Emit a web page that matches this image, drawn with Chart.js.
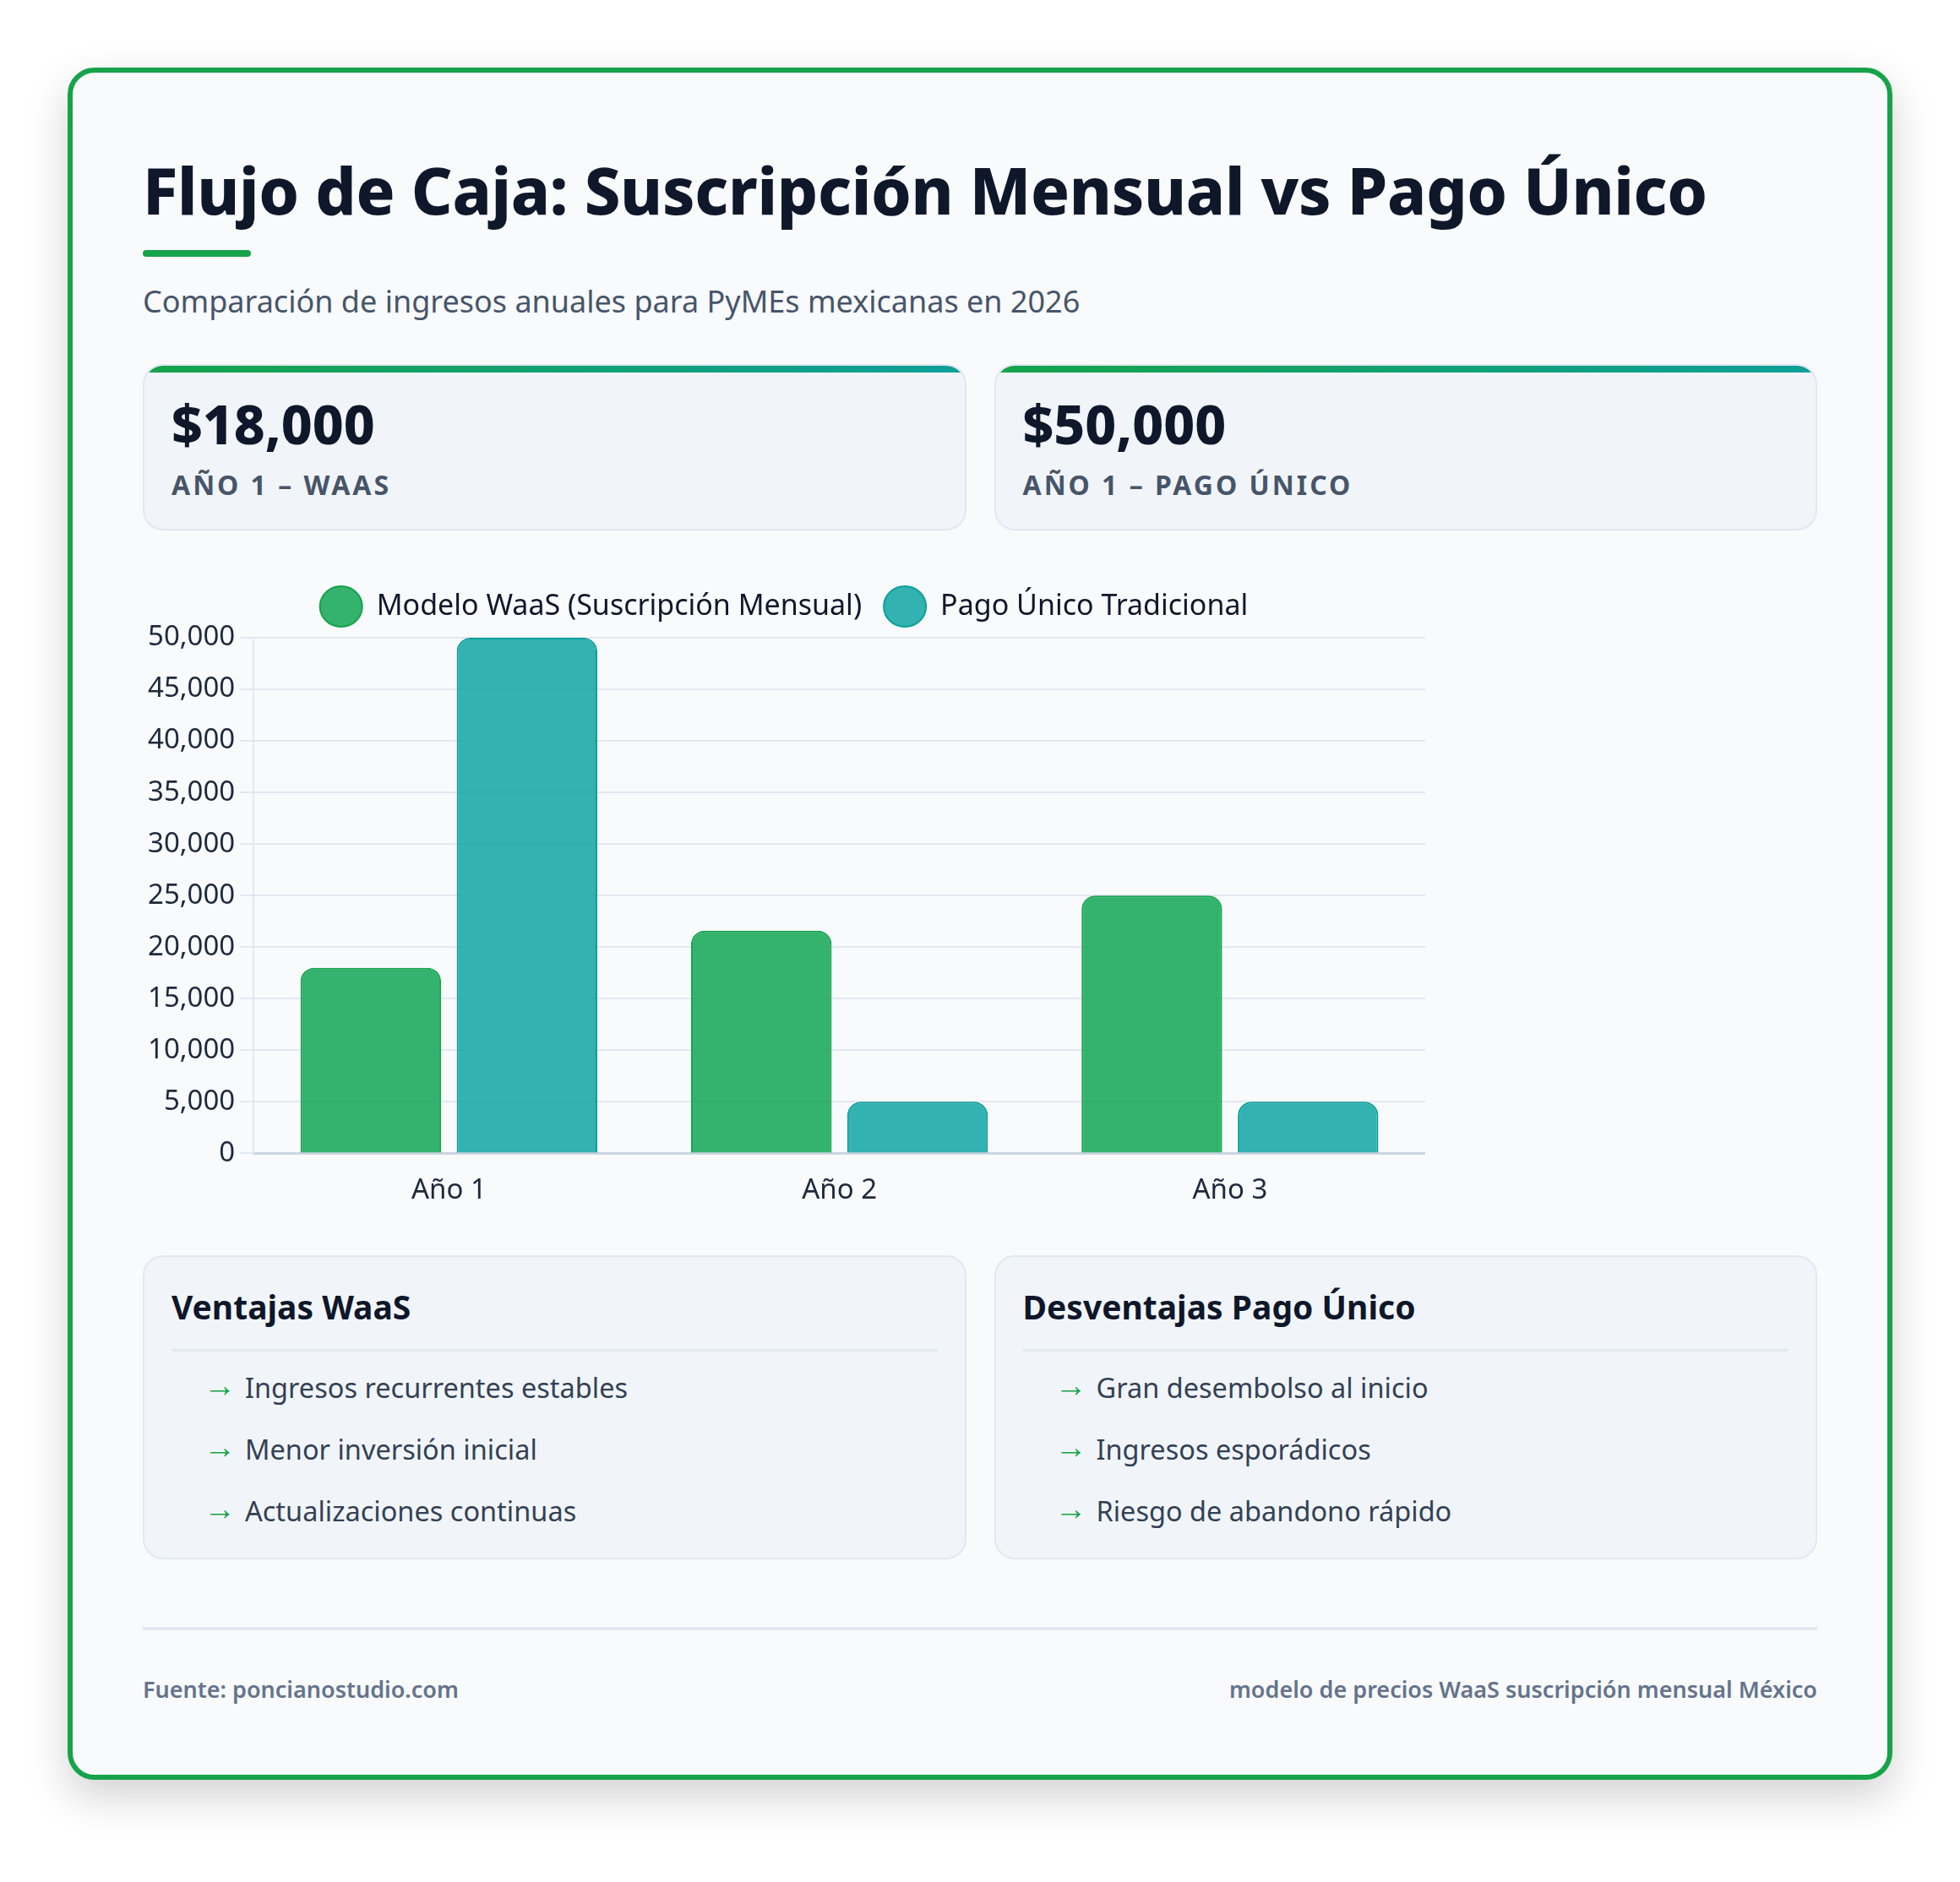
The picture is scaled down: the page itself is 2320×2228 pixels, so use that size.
<!DOCTYPE html>
<html lang="es">
<head>
<meta charset="utf-8">
<title>Flujo de Caja: Suscripción Mensual vs Pago Único</title>
<script src="https://cdn.jsdelivr.net/npm/chart.js@4.4.1/dist/chart.umd.min.js"></script>
<style>
	html, body { margin: 0; padding: 0; background: #ffffff; }
	body { width: 2320px; height: 2228px; position: relative; font-family: "Noto Sans", "Open Sans", sans-serif; }
	.card {
		position: absolute; left: 80px; top: 80px; width: 2160px; height: 2027px; box-sizing: border-box;
		border: 6px solid #16a34a; border-radius: 32px; background: #f8fafc;
		padding: 93px 83px 0 83px; box-shadow: 0 20px 50px rgba(0,0,0,0.18);
	}
	h1 { margin: 0; font-size: 76px; line-height: 92px; font-weight: 800; color: #0f172a; letter-spacing: -0.3px; }
	.bar { margin-top: 25px; width: 128px; height: 8px; border-radius: 4px; background: #16a34a; }
	.sub { margin-top: 28px; font-size: 36px; line-height: 49px; color: #475569; }
	.stats { margin-top: 50px; display: grid; grid-template-columns: 1fr 1fr; gap: 33px; }
	.stat {
		position: relative; overflow: hidden; height: 197px; box-sizing: border-box;
		background: #f1f5f9; border: 2px solid #e2e8f0; border-radius: 24px; padding: 30px 32px 0 32px;
	}
	.stat::before { content: ""; position: absolute; left: 0; top: 0; right: 0; height: 8px; background: linear-gradient(90deg, #16a34a, #0d9f9a); }
	.stat .val { font-size: 64px; line-height: 77px; font-weight: 800; color: #0f172a; }
	.stat .lbl { margin-top: 13px; font-size: 32px; line-height: 42px; font-weight: 700; color: #475569; letter-spacing: 3px; text-transform: uppercase; }
	.chartbox { margin-top: 47px; width: 1518px; height: 770px; position: relative; }
	.lists { margin-top: 41px; display: grid; grid-template-columns: 1fr 1fr; gap: 33px; }
	.list {
		height: 360px; box-sizing: border-box; background: #f1f5f9; border: 2px solid #e2e8f0; border-radius: 24px;
		padding: 35px 32px 0 32px;
	}
	.list h3 { margin: 0; font-size: 39px; line-height: 48px; font-weight: 700; color: #0f172a; padding-bottom: 26px; border-bottom: 3px solid #e2e8f0; }
	.list ul { list-style: none; margin: 6px 0 0 0; padding: 0; }
	.list li { position: relative; padding-left: 87px; font-size: 32.5px; line-height: 73px; height: 73px; color: #334155; }
	.list li::before { content: "→"; position: absolute; left: 38px; top: -4px; color: #16a34a; font-size: 38px; }
	.foot { margin-top: 80px; border-top: 4px solid #e2e8f0; padding-top: 51px; display: flex; justify-content: space-between; font-size: 27px; line-height: 38px; font-weight: 600; color: #64748b; }
</style>
</head>
<body>
<div class="card">
	<h1>Flujo de Caja: Suscripción Mensual vs Pago Único</h1>
	<div class="bar"></div>
	<div class="sub">Comparación de ingresos anuales para PyMEs mexicanas en 2026</div>
	<div class="stats">
		<div class="stat"><div class="val">$18,000</div><div class="lbl">Año 1 – WaaS</div></div>
		<div class="stat"><div class="val">$50,000</div><div class="lbl">Año 1 – Pago Único</div></div>
	</div>
	<div class="chartbox"><canvas id="flujoChart" width="1518" height="770"></canvas></div>
	<div class="lists">
		<div class="list">
			<h3>Ventajas WaaS</h3>
			<ul><li>Ingresos recurrentes estables</li><li>Menor inversión inicial</li><li>Actualizaciones continuas</li></ul>
		</div>
		<div class="list">
			<h3>Desventajas Pago Único</h3>
			<ul><li>Gran desembolso al inicio</li><li>Ingresos esporádicos</li><li>Riesgo de abandono rápido</li></ul>
		</div>
	</div>
	<div class="foot"><span>Fuente: poncianostudio.com</span><span>modelo de precios WaaS suscripción mensual México</span></div>
</div>
<script>
var years = ['Año 1', 'Año 2', 'Año 3'];
var waasLabel = 'Modelo WaaS (Suscripción Mensual)';
var pagoLabel = 'Pago Único Tradicional';
var waasValues = [18000, 21600, 25000];
var pagoValues = [50000, 5000, 5000];

(function(){
	var ctx = document.getElementById('flujoChart');
	if (!ctx || !window.Chart) { return; }
	Chart.defaults.font.family = '"Noto Sans", "Open Sans", sans-serif';

	// a bit more room under the legend
	var legendGap = {
		id: 'legendGap',
		beforeInit: function(chart){
			var orig = chart.legend.fit;
			chart.legend.fit = function(){ orig.call(this); this.height += 10; };
		}
	};

	new Chart(ctx, {
		type: 'bar',
		data: {
			labels: years,
			datasets: [{
				label: waasLabel,
				data: waasValues,
				backgroundColor: 'rgba(22,168,88,0.87)',
				borderColor: '#16a34a',
				borderWidth: 2,
				borderRadius: 16,
				borderSkipped: 'bottom'
			}, {
				label: pagoLabel,
				data: pagoValues,
				backgroundColor: 'rgba(17,165,164,0.85)',
				borderColor: '#0d9f9a',
				borderWidth: 2,
				borderRadius: 16,
				borderSkipped: 'bottom'
			}]
		},
		plugins: [legendGap],
		options: {
			responsive: false,
			animation: false,
			devicePixelRatio: 1,
			plugins: {
				legend: {
					position: 'top',
					labels: { usePointStyle: true, pointStyle: 'circle', pointStyleWidth: 50, padding: 26, color: '#0f172a', font: { size: 34 } }
				},
				tooltip: { enabled: false }
			},
			scales: {
				x: {
					grid: { display: false },
					border: { color: '#cbd5e1', width: 3 },
					ticks: { color: '#1e293b', font: { size: 33 }, padding: 16 }
				},
				y: {
					beginAtZero: true,
					ticks: { stepSize: 5000, color: '#1e293b', font: { size: 33 }, padding: 6 },
					grid: { color: '#e2e8f0', lineWidth: 2, tickLength: 16 },
					border: { color: '#e2e8f0', width: 2 }
				}
			}
		}
	});
})();
</script>
</body>
</html>
